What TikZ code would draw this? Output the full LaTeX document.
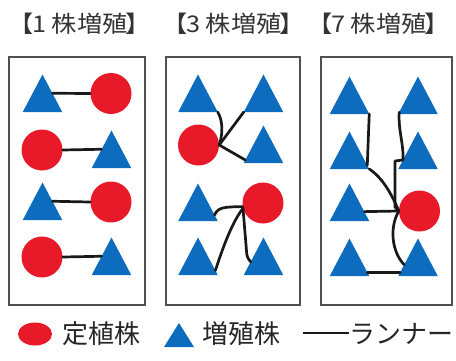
\documentclass[tikz,border=0pt]{standalone}
\usepackage{fontspec}
\setmainfont{Noto Sans CJK JP}
\usetikzlibrary{calc}
\definecolor{pred}{RGB}{232,26,42}
\definecolor{pblue}{RGB}{14,108,190}
\definecolor{frame}{RGB}{80,80,80}
\newcommand{\ttl}[1]{【\hspace{-0.08em}#1\hspace{-0.08em}】}
\tikzset{
  tri/.pic={
    \fill[pblue] (-19.75,0) -- (19.75,0) -- (0,-37.5) -- cycle;
    \coordinate (-bl) at (-19.75,0);
    \coordinate (-br) at (19.75,0);
    \coordinate (-ap) at (0,-37.5);
  },
  smalltri/.pic={
    \fill[pblue] (-15,0) -- (15,0) -- (0,-24) -- cycle;
  },
  circ/.style={circle,fill=pred,inner sep=0pt,minimum size=41pt},
  run/.style={line width=2.7pt,black!90,line cap=round,line join=round},
  boxframe/.style={draw=frame,line width=1.4pt},
  title/.style={font=\fontsize{23}{27}\selectfont,text=black!80,inner sep=0pt,xscale=1.1},
  legend/.style={font=\fontsize{26}{30}\selectfont,text=black!85,inner sep=0pt,anchor=west}
}
\begin{document}
\begin{tikzpicture}[x=1pt,y=-1pt]
\useasboundingbox (0,0) rectangle (456,360);
% titles
\node[title] (h1) at (80,24) {\ttl{1 株増殖}};
\node[title] (h2) at (234,24) {\ttl{3 株増殖}};
\node[title] (h3) at (379,24) {\ttl{7 株増殖}};
% frames
\node[boxframe,minimum width=136pt,minimum height=248pt,inner sep=0pt] (b1) at (77,181) {};
\node[boxframe,minimum width=134pt,minimum height=248pt,inner sep=0pt] (b2) at (233,181) {};
\node[boxframe,minimum width=131pt,minimum height=248pt,inner sep=0pt] (b3) at (386.5,181) {};
% box 1
\pic (t11) at (42.5,112) {tri};
\node[circ] (c11) at (111,93.5) {};
\node[circ] (c12) at (42,150) {};
\pic (t12) at (111.5,168) {tri};
\pic (t13) at (42.5,220) {tri};
\node[circ] (c13) at (111,202) {};
\node[circ] (c14) at (42,257) {};
\pic (t14) at (111.5,275) {tri};
\draw[run] ($(t11-br)!0.5!(t11-ap)$) -- (c11.west);
\draw[run] (c12.east) -- ($(t12-bl)!0.5!(t12-ap)$);
\draw[run] ($(t13-br)!0.5!(t13-ap)$) -- (c13.west);
\draw[run] (c14.east) -- ($(t14-bl)!0.5!(t14-ap)$);
% box 2
\pic (t21) at (198,112) {tri};
\pic (t22) at (263.5,112) {tri};
\node[circ] (c21) at (198.5,145) {};
\pic (t23) at (263.5,163) {tri};
\pic (t24) at (198,221) {tri};
\node[circ] (c22) at (263,203) {};
\pic (t25) at (198,275) {tri};
\pic (t26) at (263.5,275) {tri};
\draw[run] (t21-br) .. controls (223,121) and (223,134) .. (c21.east);
\draw[run] (t22-bl) -- (c21.east);
\draw[run] (c21.east) -- ($(t23-bl)!0.08!(t23-ap)$);
\draw[run] ($(t24-br)!0.16!(t24-ap)$) .. controls (218,207) and (224,207) .. (c22.190);
\draw[run] ($(t25-br)!0.12!(t25-ap)$) .. controls (222,250) and (232,222) .. (c22.195);
\draw[run,rounded corners=3pt] (c22.195) -- (247,257) -- ($(t26-bl)!0.35!(t26-ap)$);
% box 3
\pic (t31) at (349.5,114) {tri};
\pic (t32) at (418,114) {tri};
\pic (t33) at (349.5,169) {tri};
\pic (t34) at (418,169) {tri};
\pic (t35) at (349.5,221) {tri};
\node[circ] (c31) at (419.5,211) {};
\pic (t36) at (349.5,276) {tri};
\pic (t37) at (418,276) {tri};
\draw[run] (t31-br) -- ($(t33-br)!0.1!(t33-ap)$);
\draw[run] ($(t32-bl)!0.05!(t32-ap)$) .. controls (398,130) and (404,145) .. ($(t34-bl)!0.24!(t34-ap)$) -- (395,161) -- (395,207) -- (c31.west);
\draw[run] (t33-br) .. controls (383,178) and (392,195) .. (c31.west);
\draw[run] ($(t35-br)!0.25!(t35-ap)$) -- (c31.west);
\draw[run] (c31.west) .. controls (389,228) and (392,252) .. ($(t37-bl)!0.3!(t37-ap)$);
\draw[run] ($(t36-br)!0.1!(t36-ap)$) -- ($(t37-bl)!0.1!(t37-ap)$);
% legend
\fill[pred] (35,334) ellipse [x radius=17, y radius=11.5];
\node[legend] (l1) at (62,334) {定植株};
\pic (lt) at (179,347) {smalltri};
\node[legend] (l2) at (202,334) {増殖株};
\coordinate (la) at (303,333);
\node[legend] (l3) at (349,334) {ランナー};
\draw[line width=2.4pt,black!90] (la) -- (l3.west |- la);
\end{tikzpicture}
\end{document}
